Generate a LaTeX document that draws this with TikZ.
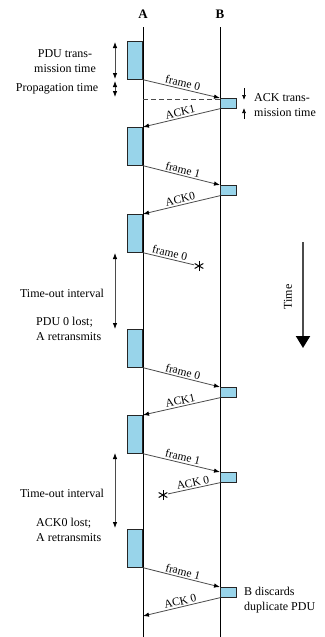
\documentclass[tikz,border=0pt]{standalone}
\usepackage{fontspec}
\setmainfont{Liberation Serif}
\usetikzlibrary{arrows.meta}
\definecolor{boxblue}{RGB}{152,212,234}
\definecolor{linegray}{RGB}{75,75,75}
\begin{document}
\begin{tikzpicture}[x=1pt,y=-1pt,
 abox/.style={draw=black!85, fill=boxblue, line width=0.7pt, inner sep=0pt, minimum width=15pt, minimum height=38pt, anchor=north east},
 bbox/.style={draw=black!85, fill=boxblue, line width=0.7pt, inner sep=0pt, minimum width=16pt, minimum height=10pt, anchor=north west},
 msg/.style={draw=linegray, line width=0.8pt, -{Latex[length=6pt,width=4.5pt,black]}},
 lostmsg/.style={draw=linegray, line width=0.8pt},
 lbl/.style={font=\fontsize{11.5}{13}\selectfont, sloped, above, inner sep=1.5pt, midway},
 txt/.style={font=\fontsize{12}{15}\selectfont, inner sep=0pt},
 dim/.style={draw=linegray, line width=0.8pt, {Latex[length=6pt,width=4.5pt,black]}-{Latex[length=6pt,width=4.5pt,black]}},
 small/.style={draw=black, line width=0.7pt, -{Latex[length=5pt,width=4pt,black]}},
 starnode/.style={circle, minimum size=10pt, inner sep=0pt},
 starline/.style={draw=black, line width=1pt},
 life/.style={draw=black, line width=0.8pt},
 head/.style={font=\fontsize{13}{14}\selectfont\bfseries},
]
\useasboundingbox (0,0) rectangle (324,637);
% headers and lifelines
\node[head] (hA) at (143,14) {A};
\node[head] (hB) at (220,14) {B};
\coordinate (Atop) at (143,27);
\coordinate (Abot) at (143,637);
\coordinate (Btop) at (220,27);
\coordinate (Bbot) at (220,637);
\draw[life] (Atop) -- (Abot);
\draw[life] (Btop) -- (Bbot);
% dashed line
\coordinate (dA) at (143,99);
\coordinate (dB) at (220,99);
\draw[draw=linegray, line width=0.8pt, dash pattern=on 5pt off 3pt] (dA) -- (dB);
% A boxes
\node[abox] (a1) at (143,41) {};
\node[abox] (a2) at (143,127) {};
\node[abox] (a3) at (143,214) {};
\node[abox] (a4) at (143,329) {};
\node[abox] (a5) at (143,415) {};
\node[abox] (a6) at (143,529) {};
% B boxes
\node[bbox] (b1) at (220,98) {};
\node[bbox] (b2) at (220,185) {};
\node[bbox] (b3) at (220,387) {};
\node[bbox] (b4) at (220,472) {};
\node[bbox] (b5) at (220,587) {};
% stars
\node[starnode] (s1) at (199,266) {};
\node[starnode] (s2) at (163,495) {};
\foreach \s in {s1,s2}{
  \foreach \ang in {90,30,150}{
    \draw[starline] ([shift={(\ang:5)}]\s.center) -- ([shift={(\ang+180:5)}]\s.center);
  }
}
\coordinate (endack) at (143,616);
% messages
\draw[msg] (a1.south east) -- node[lbl] {frame 0} (b1.north west);
\draw[msg] (b1.south west) -- node[lbl] {ACK1} (a2.north east);
\draw[msg] (a2.south east) -- node[lbl] {frame 1} (b2.north west);
\draw[msg] (b2.south west) -- node[lbl] {ACK0} (a3.north east);
\draw[lostmsg] (a3.south east) -- node[lbl] {frame 0} (s1);
\draw[msg] (a4.south east) -- node[lbl] {frame 0} (b3.north west);
\draw[msg] (b3.south west) -- node[lbl] {ACK1} (a5.north east);
\draw[msg] (a5.south east) -- node[lbl] {frame 1} (b4.north west);
\draw[lostmsg] (b4.south west) -- node[lbl] {ACK 0} (s2);
\draw[msg] (a6.south east) -- node[lbl] {frame 1} (b5.north west);
\draw[msg] (b5.south west) -- node[lbl] {ACK 0} (endack);
% left dimension arrows
\coordinate (p1) at (115,42);
\coordinate (p2) at (115,79);
\coordinate (p3) at (115,81);
\coordinate (p4) at (115,97);
\coordinate (t1) at (115,253);
\coordinate (t2) at (115,329);
\coordinate (t3) at (115,453);
\coordinate (t4) at (115,528);
\draw[dim] (p1) -- (p2);
\draw[dim] (p3) -- (p4);
\draw[dim] (t1) -- (t2);
\draw[dim] (t3) -- (t4);
% ACK transmission arrows
\coordinate (k1) at (244,88);
\coordinate (k2) at (244,100);
\coordinate (k3) at (244,119);
\coordinate (k4) at (244,108);
\draw[small] (k1) -- (k2);
\draw[small] (k3) -- (k4);
% texts
\node[txt, align=center] (pdutx) at (65,61) {PDU trans-\\mission time};
\node[txt] (prop) at (57,89) {Propagation time};
\node[txt, align=left, anchor=west] (acktx) at (254,105) {ACK trans-\\mission time};
\node[txt] (to1) at (62,293) {Time-out interval};
\node[txt, align=left, anchor=west] (lost1) at (36,329) {PDU 0 lost;\\A retransmits};
\node[txt] (to2) at (62,493) {Time-out interval};
\node[txt, align=left, anchor=west] (lost2) at (36,530) {ACK0 lost;\\A retransmits};
\node[txt, align=left, anchor=west] (disc) at (244,600) {B discards\\duplicate PDU};
% time arrow
\coordinate (tm1) at (303,242);
\coordinate (tm2) at (303,348);
\draw[draw=linegray, line width=2pt, -{Triangle[length=12pt,width=14pt,black]}] (tm1) -- (tm2);
\node[txt, rotate=90] (time) at (288,297) {Time};
\end{tikzpicture}
\end{document}
